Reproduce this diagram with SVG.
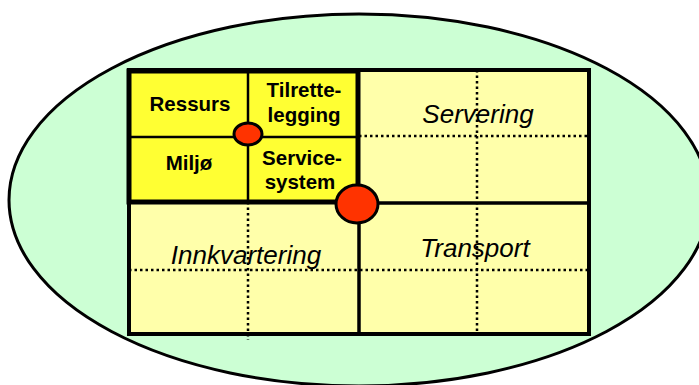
<svg xmlns="http://www.w3.org/2000/svg" width="699" height="385" viewBox="0 0 699 385">
<style>
.dot{stroke:#000;stroke-width:2.5;stroke-dasharray:2.5,3;fill:none}
.sol{stroke:#000;fill:none}
.b{font-family:"Liberation Sans",Arial,sans-serif;font-weight:bold;font-size:20.5px;text-anchor:middle;fill:#000}
.i{font-family:"Liberation Sans",Arial,sans-serif;font-style:italic;font-size:26px;text-anchor:middle;fill:#000}
.red{fill:#FF3300;stroke:#000;stroke-width:3}
</style>
<rect width="699" height="385" fill="#fff"/>
<ellipse id="bg" cx="359" cy="200" rx="350" ry="186" fill="#CCFFD4" stroke="#000" stroke-width="3"/>
<g id="grid">
<rect x="129" y="70" width="460" height="264" fill="#FFFFAA" stroke="#000" stroke-width="4"/>
<line class="dot" x1="359" y1="136" x2="589" y2="136"/>
<line class="dot" x1="477" y1="70" x2="477" y2="334"/>
<line class="dot" x1="129" y1="270" x2="589" y2="270"/>
<line class="dot" x1="248" y1="202" x2="248" y2="340"/>
<line class="sol" x1="359" y1="202" x2="359" y2="334" stroke-width="3.5"/>
<line class="sol" x1="358" y1="203" x2="589" y2="203" stroke-width="3.5"/>
</g>
<g id="core">
<rect x="129" y="71" width="229" height="131" fill="#FFFF33" stroke="#000" stroke-width="5"/>
<line class="sol" x1="248" y1="71" x2="248" y2="202" stroke-width="2.5"/>
<line class="sol" x1="129" y1="137" x2="358" y2="137" stroke-width="2.5"/>
</g>
<g id="n-ressurs"><text class="b" x="190" y="111">Ressurs</text></g>
<g id="n-tilrettelegging"><text class="b" x="304" y="97">Tilrette-</text><text class="b" x="304" y="122">legging</text></g>
<g id="n-miljo"><text class="b" x="189" y="170">Miljø</text></g>
<g id="n-servicesystem"><text class="b" x="302" y="165">Service-</text><text class="b" x="300" y="189">system</text></g>
<g id="n-servering"><text class="i" x="478" y="123">Servering</text></g>
<g id="n-transport"><text class="i" x="475" y="257">Transport</text></g>
<g id="n-innkvartering"><text class="i" x="246" y="264">Innkvartering</text></g>
<g id="dots">
<ellipse class="red" cx="248" cy="134" rx="14" ry="11"/>
<ellipse class="red" cx="357" cy="204" rx="21" ry="19"/>
</g>
</svg>
